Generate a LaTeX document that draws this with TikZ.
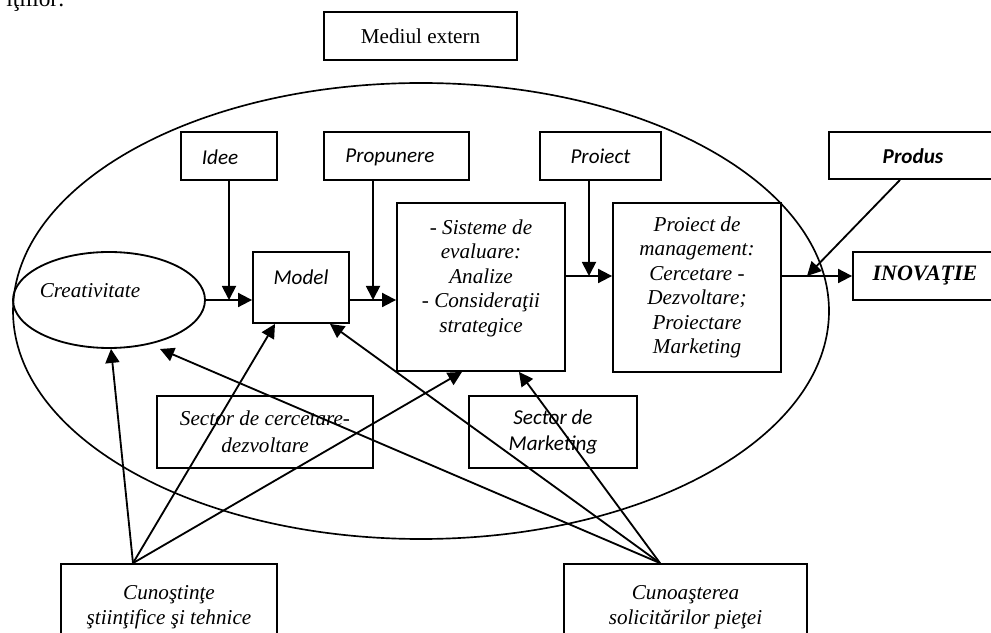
\documentclass[tikz,border=0pt]{standalone}
\usepackage{fontspec}
\setmainfont{Liberation Serif}
\newfontfamily\calfont{Carlito}
\usetikzlibrary{shapes.geometric,arrows.meta,calc}
\begin{document}
\begin{tikzpicture}[x=0.6pt,y=-0.6pt,
  box/.style={draw, line width=1.1pt, inner sep=0},
  arr/.style={line width=1.1pt, -{Triangle[length=8.4pt,width=8.4pt]}},
  ser/.style={font=\fontsize{12.7}{14.7}\selectfont\itshape, align=center, inner sep=0},
  san/.style={font=\calfont\fontsize{12.7}{14.7}\selectfont\itshape, align=center, inner sep=0},
]
\useasboundingbox (0,0) rectangle (991,633);

% clipped fragment of the text above
\node[anchor=base west, font=\fontsize{14}{16}\selectfont, inner sep=0] (frag) at (6,7) {iţiilor:};

% outer environment
\node[box, minimum width=115.8pt, minimum height=28.8pt, font=\fontsize{12.7}{14}\selectfont] (med) at (420.5,36) {Mediul extern};
\node[draw, ellipse, line width=1pt, minimum width=489.6pt, minimum height=273.6pt, inner sep=0] (env) at (421,311) {};

% inputs on top
\node[box, minimum width=57.6pt, minimum height=28.8pt] (idee) at (229,156) {};
\node[san] (tidee) at (220,157) {Idee};
\node[box, minimum width=87pt, minimum height=28.8pt] (prop) at (396.5,156) {};
\node[san] (tprop) at (390,157) {Propunere};
\node[box, minimum width=72.6pt, minimum height=28.8pt, san] (proj) at (600.5,156) {Proiect};
\node[box, minimum width=105.6pt, minimum height=28.2pt] (prod) at (917,155.5) {};
\node[san, font=\calfont\fontsize{12.7}{14.7}\selectfont\bfseries\itshape] (tprod) at (913,156) {Produs};

% main chain
\node[draw, ellipse, line width=1.1pt, minimum width=115.2pt, minimum height=57.6pt, inner sep=0] (creat) at (109,300) {};
\node[ser] (tcreat) at (90,291) {Creativitate};
\node[box, minimum width=57.6pt, minimum height=42.6pt] (model) at (301,287.5) {};
\node[san] (tmodel) at (301,277) {Model};
\node[box, minimum width=100.8pt, minimum height=100.8pt] (sis) at (481,287) {};
\node[ser] (tsis) at (481,278) {- Sisteme de\\evaluare:\\Analize\\- Consideraţii\\strategice};
\node[box, minimum width=100.8pt, minimum height=101.4pt, ser] (mgmt) at (697,287.5) {Proiect de\\management:\\Cercetare -\\Dezvoltare;\\Proiectare\\Marketing};
\node[box, minimum width=91.2pt, minimum height=28.8pt] (inov) at (929,276) {};
\node[ser, font=\fontsize{13.2}{15}\selectfont\bfseries\itshape] (tinov) at (925,276) {INOVAŢIE};

% sectors
\node[box, minimum width=129.6pt, minimum height=43.2pt, ser, font=\fontsize{12.7}{16}\selectfont\itshape] (sec1) at (265,432) {Sector de cercetare-\\dezvoltare};
\node[box, minimum width=100.8pt, minimum height=43.2pt, san, font=\calfont\fontsize{12.7}{16}\selectfont\itshape] (sec2) at (553,432) {Sector de\\Marketing};

% knowledge sources (cut by the page edge)
\node[box, minimum width=129.6pt, minimum height=52.2pt, ser, font=\fontsize{12.7}{15}\selectfont\itshape] (cun) at (169,607.5) {Cunoştinţe\\ştiinţifice şi tehnice};
\node[box, minimum width=145.8pt, minimum height=52.2pt, ser, font=\fontsize{12.7}{15}\selectfont\itshape] (pie) at (685.5,607.5) {Cunoaşterea\\solicitărilor pieţei};

% upper flow
\draw[arr] (creat.east) -- (creat.east -| model.west);
\draw[arr] (idee.south) -- (idee.south |- creat.east);
\draw[arr] (model.east |- creat.east) -- (creat.east -| sis.west);
\draw[arr] ([xshift=-14.1pt]prop.south) -- ([xshift=-14.1pt]prop.south |- creat.east);
\draw[arr] (sis.east |- inov.west) -- (mgmt.west |- inov.west);
\draw[arr] ([xshift=-6.9pt]proj.south) -- ([xshift=-6.9pt]proj.south |- inov.west);
\draw[arr] (mgmt.east |- inov.west) -- (inov.west);
\coordinate (pin) at (807,276);
\draw[arr] ([xshift=-10.2pt]prod.south) -- (pin);

% lower flow
\coordinate (cunt) at ([xshift=-21.6pt]cun.north);
\coordinate (piet) at ([xshift=-15.3pt]pie.north);
\draw[arr] (cunt) -- ([xshift=1.2pt]creat.south);
\draw[arr] (cunt) -- ([xshift=-15.6pt]model.south);
\draw[arr] (cunt) -- ([xshift=-11.4pt]sis.south);
\draw[arr] (piet) -- ([xshift=22.8pt]sis.south);
\draw[arr] (piet) -- ([xshift=17.4pt]model.south);
\coordinate (cre2) at (160,349);
\draw[arr] (piet) -- (cre2);
\end{tikzpicture}
\end{document}
